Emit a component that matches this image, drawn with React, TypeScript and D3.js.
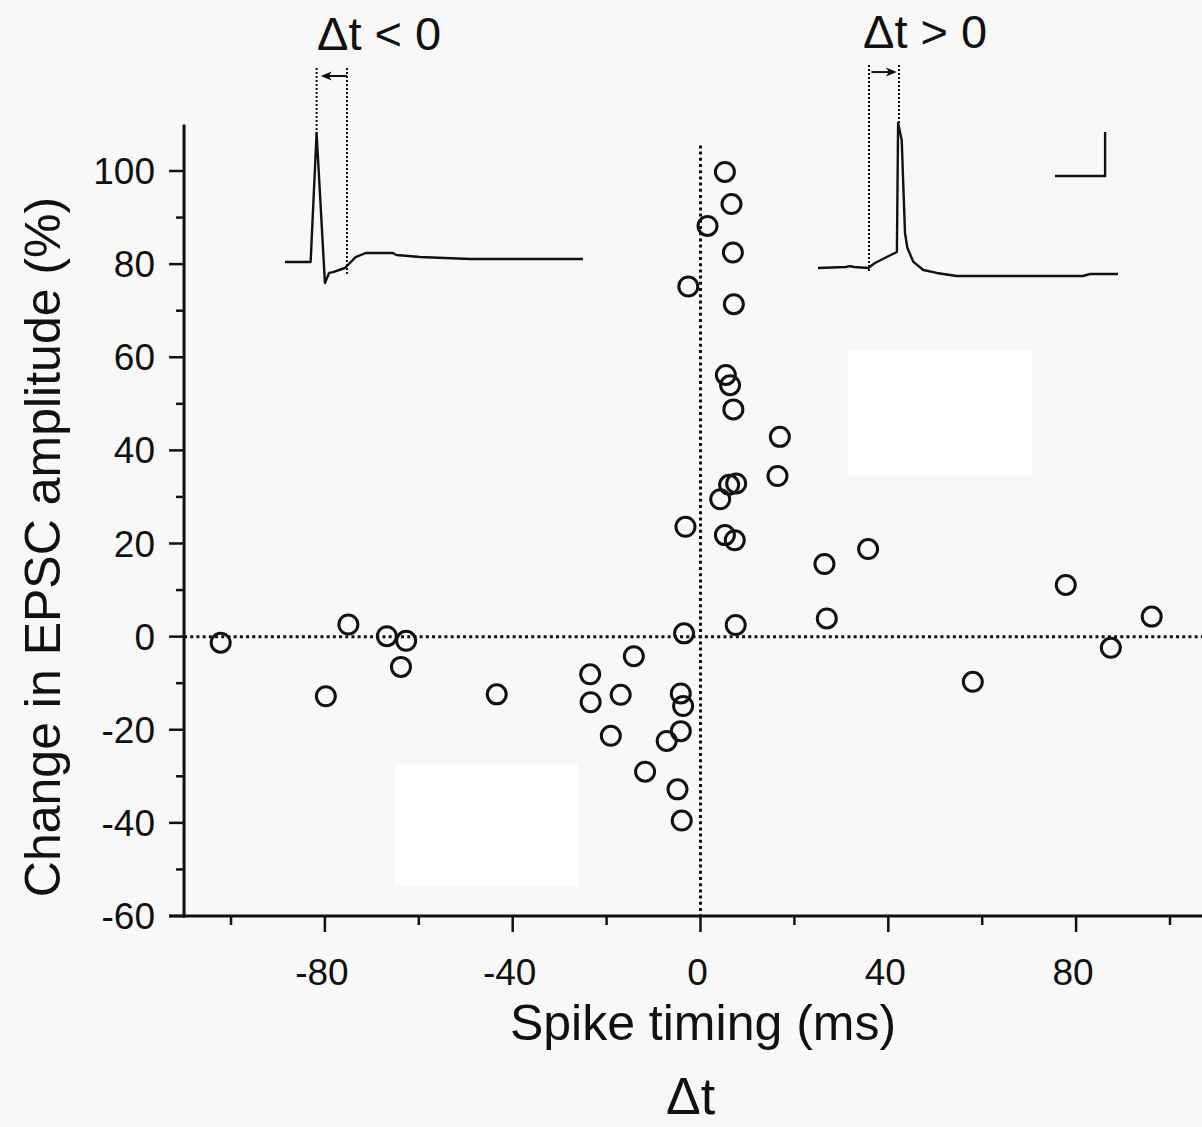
import React from 'react';
import * as d3 from 'd3';

// Scatter data: spike timing (ms) vs change in EPSC amplitude (%)
const spikeTiming = [
  5.2, 6.6, 1.5, 6.9, -2.6, 7.1, 5.4, 6.3, 7.0, 16.9, 16.4, 7.6, 6.1, 4.2, -3.2, 5.2, 7.3,
  -3.5, 7.5, -14.2, -23.5, -23.4, -17.0, -4.2, -3.7, -4.2, -19.1, -7.2, -11.8, -4.9, -4.0,
  -102.2, -75.0, -66.8, -62.7, -63.8, -79.8, -43.4,
  26.4, 35.7, 26.9, 77.8, 96.1, 87.4, 58.0,
];
const epscChange = [
  99.8, 92.9, 88.2, 82.5, 75.2, 71.4, 56.2, 54.0, 48.8, 42.9, 34.5, 32.9, 32.6, 29.5, 23.6, 21.8, 20.7,
  0.7, 2.5, -4.2, -8.1, -14.1, -12.5, -12.2, -14.9, -20.3, -21.3, -22.4, -29.0, -32.8, -39.5,
  -1.3, 2.6, 0.1, -0.9, -6.5, -12.8, -12.4,
  15.6, 18.8, 3.9, 11.1, 4.3, -2.4, -9.7,
];

const yMajorTicks = [-60, -40, -20, 0, 20, 40, 60, 80, 100];
const yMinorTicks = [-50, -30, -10, 10, 30, 50, 70, 90];
const xMajorTicks = [-80, -40, 0, 40, 80];
const xMinorTicks = [-100, -60, -20, 20, 60, 100];

// Inset traces (arbitrary time / voltage units)
const preTraceT = [0, 8.6, 10.6, 13.4, 14.8, 16.1, 20.1, 21.1, 23.7, 27.1, 36.2, 37.4, 45.3, 62.1, 100];
const preTraceV = [14, 14, 100, 0, 6.7, 7.3, 10, 12, 17.3, 20, 20, 18.7, 17.3, 16, 16];
const postTraceT = [0, 9.3, 10.7, 12, 16.7, 19, 22.9, 26.3, 26.7, 27.9, 29, 29.8, 31.8, 35.1, 39.6, 46.2, 88.3, 90.7, 100];
const postTraceV = [5.2, 5.9, 6.5, 5.9, 5.2, 8.5, 12.4, 15.7, 100, 88.9, 28.1, 18.3, 9.2, 3.9, 2, 0, 0, 1.3, 1.3];

const FONT = "'Liberation Sans', Arial, Helvetica, sans-serif";

export default function App() {
  const W = 1202;
  const H = 1127;
  const x = d3.scaleLinear().domain([-100, 100]).range([231, 1170]);
  const y = d3.scaleLinear().domain([-60, 100]).range([916, 171]);
  const axisX = x(-110);
  const axisY = y(-60);
  const majorLen = 15;
  const minorLen = 8;

  const preX = d3.scaleLinear().domain([0, 100]).range([285, 583]);
  const preY = d3.scaleLinear().domain([0, 100]).range([283, 133]);
  const postX = d3.scaleLinear().domain([0, 100]).range([818, 1118]);
  const postY = d3.scaleLinear().domain([0, 100]).range([276, 123]);

  const preLine = d3.line<number>().x((_, i) => preX(preTraceT[i])).y((_, i) => preY(preTraceV[i]));
  const postLine = d3.line<number>().x((_, i) => postX(postTraceT[i])).y((_, i) => postY(postTraceV[i]));

  const dot = { stroke: '#111', strokeWidth: 3, strokeDasharray: '3,3.2', fill: 'none' };
  const thinDot = { stroke: '#111', strokeWidth: 2, strokeDasharray: '2,2', fill: 'none' };

  // arrows in insets
  const preArrowY = preY(138);
  const preArrowFrom = preX(20.8);
  const preArrowTip = preX(12.0);
  const postArrowY = postY(133.3);
  const postArrowFrom = postX(17.8);
  const postArrowTip = postX(26.3);

  return (
    <svg width={W} height={H} style={{ position: 'absolute', left: 0, top: 0, display: 'block' }}>
      <rect x={0} y={0} width={W} height={H} fill="#f8f8f8" />
      <rect x={848} y={350} width={184} height={126} fill="#ffffff" />
      <rect x={395} y={764} width={183} height={122} fill="#ffffff" />

      {/* reference dotted lines */}
      <line x1={axisX} x2={W} y1={y(0)} y2={y(0)} {...dot} />
      <line x1={x(0)} x2={x(0)} y1={y(105.5)} y2={axisY} {...dot} />

      {/* Y axis */}
      <line x1={axisX} x2={axisX} y1={y(110)} y2={axisY + 1.5} stroke="#111" strokeWidth={3} />
      {yMajorTicks.map((t) => (
        <g key={'ym' + t}>
          <line x1={axisX - majorLen} x2={axisX} y1={y(t)} y2={y(t)} stroke="#111" strokeWidth={2.5} />
          <text x={155} y={y(t) + 13} textAnchor="end" fontFamily={FONT} fontSize={37} fill="#111">
            {t}
          </text>
        </g>
      ))}
      {yMinorTicks.map((t) => (
        <line key={'yn' + t} x1={axisX - minorLen} x2={axisX} y1={y(t)} y2={y(t)} stroke="#111" strokeWidth={2.5} />
      ))}

      {/* X axis */}
      <line x1={axisX - majorLen} x2={W} y1={axisY} y2={axisY} stroke="#111" strokeWidth={3} />
      {xMajorTicks.map((t) => (
        <g key={'xm' + t}>
          <line x1={x(t)} x2={x(t)} y1={axisY} y2={axisY + 16} stroke="#111" strokeWidth={2.5} />
          <text x={x(t) - 3} y={985} textAnchor="middle" fontFamily={FONT} fontSize={37} fill="#111">
            {t}
          </text>
        </g>
      ))}
      {xMinorTicks.map((t) => (
        <line key={'xn' + t} x1={x(t)} x2={x(t)} y1={axisY} y2={axisY + 9} stroke="#111" strokeWidth={2.5} />
      ))}

      {/* axis titles */}
      <text transform="translate(60,547) rotate(-90)" textAnchor="middle" fontFamily={FONT} fontSize={50} fill="#111">
        Change in EPSC amplitude (%)
      </text>
      <text x={703} y={1040} textAnchor="middle" fontFamily={FONT} fontSize={50} fill="#111">
        Spike timing (ms)
      </text>
      <text x={666} y={1114} fontFamily={FONT} fontSize={52} fill="#111">
        Δt
      </text>

      {/* data points */}
      {spikeTiming.map((v, i) => (
        <circle key={'p' + i} cx={x(v)} cy={y(epscChange[i])} r={9.5} fill="none" stroke="#111" strokeWidth={3} />
      ))}

      {/* left inset: Δt < 0 */}
      <text x={317} y={50} fontFamily={FONT} fontSize={47} fill="#111">Δt &lt; 0</text>
      <line x1={preX(10.6)} x2={preX(10.6)} y1={preY(143.3)} y2={preY(100)} {...thinDot} />
      <line x1={preX(20.8)} x2={preX(20.8)} y1={preY(143.3)} y2={preY(5)} {...thinDot} />
      <line x1={preArrowFrom} x2={preArrowTip + 4} y1={preArrowY} y2={preArrowY} stroke="#111" strokeWidth={2} />
      <path
        d={`M${preArrowTip},${preArrowY} L${preArrowTip + 11},${preArrowY - 4.5} L${preArrowTip + 8},${preArrowY} L${preArrowTip + 11},${preArrowY + 4.5} Z`}
        fill="#111"
      />
      <path d={preLine(preTraceT) || ''} fill="none" stroke="#111" strokeWidth={2.4} strokeLinejoin="round" />

      {/* right inset: Δt > 0 */}
      <text x={863} y={48} fontFamily={FONT} fontSize={47} fill="#111">Δt &gt; 0</text>
      <line x1={postX(17)} x2={postX(17)} y1={postY(137.9)} y2={postY(2)} {...thinDot} />
      <line x1={postX(27)} x2={postX(27)} y1={postY(137.9)} y2={postY(100)} {...thinDot} />
      <line x1={postArrowFrom} x2={postArrowTip - 4} y1={postArrowY} y2={postArrowY} stroke="#111" strokeWidth={2} />
      <path
        d={`M${postArrowTip},${postArrowY} L${postArrowTip - 11},${postArrowY - 4.5} L${postArrowTip - 8},${postArrowY} L${postArrowTip - 11},${postArrowY + 4.5} Z`}
        fill="#111"
      />
      <path d={postLine(postTraceT) || ''} fill="none" stroke="#111" strokeWidth={2.4} strokeLinejoin="round" />

      {/* scale bar */}
      <path
        d={`M${postX(79)},${postY(65.4)} L${postX(95.7)},${postY(65.4)} L${postX(95.7)},${postY(94.1)}`}
        fill="none"
        stroke="#111"
        strokeWidth={2.4}
      />
    </svg>
  );
}
